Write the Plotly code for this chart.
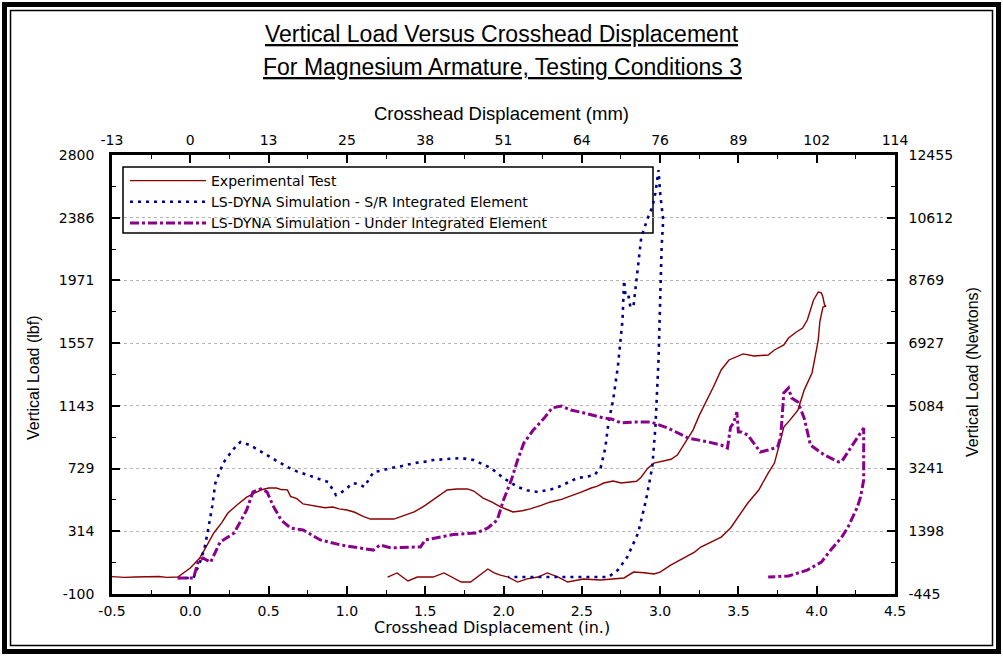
import plotly.graph_objects as go

# ---------------- data (inches, lbf) ----------------
exp_x = [-0.5, -0.42, -0.35, -0.25, -0.2, -0.15, -0.08, 0.0, 0.06, 0.1, 0.15, 0.2, 0.24, 0.3, 0.36, 0.42,
         0.45, 0.5, 0.55, 0.58, 0.62, 0.64, 0.68, 0.72, 0.8, 0.86, 0.91, 0.95, 1.0, 1.05, 1.1, 1.15, 1.3,
         1.36, 1.43, 1.5, 1.55, 1.6, 1.64, 1.7, 1.77, 1.81, 1.87, 1.93, 1.98, 2.03, 2.06, 2.12, 2.17, 2.24,
         2.3, 2.37, 2.43, 2.5, 2.56, 2.6, 2.64, 2.7, 2.75, 2.8, 2.85, 2.88, 2.92, 2.96, 3.02, 3.07, 3.11,
         3.16, 3.21, 3.25, 3.28, 3.34, 3.39, 3.44, 3.53, 3.6, 3.69, 3.73, 3.79, 3.82, 3.87, 3.91, 3.94,
         3.98, 4.01, 4.03, 4.04, 4.05, 4.06, 4.04, 4.02, 4.01, 3.99, 3.97, 3.92, 3.88, 3.83, 3.79, 3.76,
         3.73, 3.69, 3.63, 3.56, 3.5, 3.45, 3.39, 3.32, 3.26, 3.22, 3.13, 3.07, 3.0, 2.96, 2.9, 2.83,
         2.77, 2.7, 2.62, 2.51, 2.41, 2.35, 2.28, 2.22, 2.15, 2.09, 2.03, 1.98, 1.94, 1.9, 1.83, 1.79,
         1.73, 1.67, 1.62, 1.55, 1.45, 1.39, 1.32, 1.26]
exp_y = [15, 10, 12, 12, 16, 10, 12, 72, 138, 210, 303, 370, 435, 490, 540, 572,
         587, 600, 600, 590, 588, 545, 530, 495, 480, 470, 475, 462, 455, 440, 415, 395, 395,
         415, 442, 485, 520, 560, 587, 594, 594, 580, 534, 505, 475, 455, 442, 450, 462, 485,
         508, 525, 547, 575, 600, 612, 633, 646, 633, 640, 645, 673, 730, 765, 780, 790, 818,
         897, 983, 1080, 1140, 1267, 1380, 1446, 1486, 1472, 1479, 1512, 1545, 1591, 1631, 1657, 1710,
         1842, 1895, 1890, 1860, 1809, 1802, 1796, 1700, 1578, 1466, 1360, 1247, 1115, 1050, 1003, 880,
         765, 699, 587, 501, 409, 336, 276, 243, 210, 177, 125, 92, 45, 32, 40, 45,
         6, -1, -8, -1, -21, 12, 39, 12, 0, -21, 12, 25, 39, 65, 12, -21,
         -21, 10, 39, 12, 12, -14, 39, 12]

sr_x = [-0.08, 0.02, 0.06, 0.09, 0.11, 0.14, 0.16, 0.21, 0.27, 0.32, 0.38, 0.44, 0.49, 0.55, 0.62, 0.68,
        0.75, 0.82, 0.88, 0.93, 0.96, 1.0, 1.04, 1.08, 1.11, 1.17, 1.22, 1.28, 1.35, 1.43, 1.49, 1.55,
        1.65, 1.73, 1.81, 1.86, 1.92, 2.0, 2.05, 2.09, 2.15, 2.22, 2.3, 2.35, 2.42, 2.47, 2.53, 2.58,
        2.62, 2.65, 2.67, 2.7, 2.73, 2.76, 2.77, 2.78, 2.8, 2.81, 2.83, 2.85, 2.88, 2.92, 2.95, 2.97,
        2.99, 3.0, 3.02, 3.01, 3.0, 2.99, 2.97, 2.95, 2.91, 2.86, 2.79, 2.73, 2.67, 2.56, 2.4, 2.2, 2.03]
sr_y = [6, 6, 105, 200, 303, 480, 633, 765, 851, 904, 884, 850, 818, 780, 739, 710,
        686, 660, 640, 554, 567, 600, 633, 625, 607, 706, 715, 732, 745, 765, 772, 785,
        795, 798, 785, 760, 732, 666, 630, 607, 585, 574, 590, 607, 640, 666, 675, 686,
        732, 864, 1030, 1181, 1399, 1710, 1971, 1860, 1862, 1796, 1800, 1971, 2258, 2380, 2456, 2549,
        2700, 2549, 2370, 2200, 1888, 1446, 1003, 739, 521, 303, 144, 58, 12, 12, 10, 10, 12]

ui_x = [-0.08, 0.02, 0.05, 0.08, 0.13, 0.19, 0.28, 0.36, 0.4, 0.45, 0.49, 0.53, 0.58, 0.64, 0.72, 0.83,
        0.96, 1.09, 1.17, 1.21, 1.28, 1.43, 1.47, 1.5, 1.58, 1.68, 1.83, 1.9, 1.96, 2.0, 2.05, 2.09,
        2.13, 2.19, 2.26, 2.31, 2.37, 2.43, 2.49, 2.56, 2.64, 2.69, 2.75, 2.83, 2.94, 3.05, 3.18, 3.31,
        3.39, 3.43, 3.45, 3.47, 3.49, 3.5, 3.52, 3.56, 3.64, 3.69, 3.75, 3.77, 3.79, 3.82, 3.84, 3.88,
        3.92, 3.96, 4.05, 4.14, 4.16, 4.22, 4.3, 4.3, 4.3, 4.28, 4.26, 4.2, 4.16, 4.09, 4.03, 3.94,
        3.82, 3.69]
ui_y = [6, 6, 111, 138, 110, 243, 303, 455, 574, 594, 574, 480, 389, 336, 323, 257,
        224, 204, 190, 224, 205, 210, 210, 257, 275, 293, 303, 336, 389, 521, 653, 785,
        897, 983, 1062, 1129, 1142, 1115, 1102, 1082, 1062, 1056, 1030, 1036, 1036, 996, 930, 904,
        884, 864, 1003, 1030, 1102, 970, 970, 950, 838, 851, 871, 937, 1228, 1261, 1195, 1168,
        1062, 884, 818, 772, 775, 871, 996, 937, 653, 541, 475, 342, 276, 191, 111, 58,
        19, 12]

x_ticks = [-0.5, 0.0, 0.5, 1.0, 1.5, 2.0, 2.5, 3.0, 3.5, 4.0, 4.5]
x_labels = ["-0.5", "0.0", "0.5", "1.0", "1.5", "2.0", "2.5", "3.0", "3.5", "4.0", "4.5"]
mm_labels = ["-13", "0", "13", "25", "38", "51", "64", "76", "89", "102", "114"]
y_labels = ["-100", "314", "729", "1143", "1557", "1971", "2386", "2800"]
n_labels = ["-445", "1398", "3241", "5084", "6927", "8769", "10612", "12455"]
y_min, y_max = -100, 2800

series_names = ["Experimental Test",
                "LS-DYNA Simulation - S/R Integrated Element",
                "LS-DYNA Simulation - Under Integrated Element"]

# ---------------- layout helpers ----------------
W, H = 1003, 656
L, R, T, B = 112, 108, 155, 62
PW, PH = W - L - R, H - T - B

def px(x):
    return (x - L) / PW

def py(y):
    return (H - B - y) / PH

y_step = (y_max - y_min) / 7
y_ticks = [y_min + i * y_step for i in range(8)]
y_minor = [y_min + (i + 0.5) * y_step for i in range(7)]
x_minor = [x_ticks[i] + 0.25 for i in range(len(x_ticks) - 1)]

TICKF = dict(family="DejaVu Sans", size=14, color="black")

fig = go.Figure()
fig.add_trace(go.Scatter(x=exp_x, y=exp_y, mode="lines", name=series_names[0],
                         line=dict(color="#8B0000", width=1.4)))
fig.add_trace(go.Scatter(x=sr_x, y=sr_y, mode="lines", name=series_names[1],
                         line=dict(color="#00008B", width=2.6, dash="3px,5px")))
fig.add_trace(go.Scatter(x=ui_x, y=ui_y, mode="lines", name=series_names[2],
                         line=dict(color="#8B008B", width=3, dash="dashdot")))

axis_common = dict(showline=True, linecolor="black", linewidth=2.5, ticks="inside",
                   tickcolor="black", tickwidth=1.5, ticklen=8, zeroline=False,
                   tickfont=TICKF)

fig.update_layout(
    width=W, height=H,
    margin=dict(l=L, r=R, t=T, b=B, pad=0),
    paper_bgcolor="white", plot_bgcolor="white",
    showlegend=True,
    legend=dict(x=px(125), y=py(165), xanchor="left", yanchor="top",
                bgcolor="rgba(0,0,0,0)", borderwidth=0,
                font=dict(family="DejaVu Sans", size=14, color="black"),
                itemwidth=76, tracegroupgap=0),
    xaxis=dict(range=[-0.5, 4.5], tickvals=x_ticks, ticktext=x_labels,
               showgrid=False, ticklabelstandoff=2,
               minor=dict(tickvals=x_minor, ticklen=4, ticks="inside", tickcolor="black",
                          tickwidth=1.2, showgrid=False),
               **axis_common),
    xaxis2=dict(range=[-0.5, 4.5], tickvals=x_ticks, ticktext=mm_labels,
                overlaying="x", side="top", showgrid=False, ticklabelstandoff=2,
                minor=dict(tickvals=x_minor, ticklen=4, ticks="inside", tickcolor="black",
                           tickwidth=1.2, showgrid=False),
                **axis_common),
    yaxis=dict(range=[y_min, y_max], tickvals=y_ticks, ticktext=y_labels,
               showgrid=True, gridcolor="#b4b4b4", griddash="dot", gridwidth=1,
               ticklabelstandoff=12,
               minor=dict(tickvals=y_minor, ticklen=4, ticks="inside", tickcolor="black",
                          tickwidth=1.2, showgrid=False),
               **axis_common),
    yaxis2=dict(range=[y_min, y_max], tickvals=y_ticks, ticktext=n_labels,
                overlaying="y", side="right", showgrid=False, ticklabelstandoff=8,
                minor=dict(tickvals=y_minor, ticklen=4, ticks="inside", tickcolor="black",
                           tickwidth=1.2, showgrid=False),
                **axis_common),
)

# invisible anchors so the secondary axes render
fig.add_trace(go.Scatter(x=[None], y=[None], xaxis="x2", yaxis="y2", showlegend=False,
                         hoverinfo="skip"))

ann = []
TITLEF = dict(family="Liberation Sans, Arial", size=23, color="black")
ann.append(dict(text="<u>Vertical Load Versus Crosshead Displacement</u>", x=px(502), y=py(34),
                xref="paper", yref="paper", showarrow=False, font=TITLEF,
                xanchor="center", yanchor="middle"))
ann.append(dict(text="<u>For Magnesium Armature, Testing Conditions 3</u>", x=px(502), y=py(67),
                xref="paper", yref="paper", showarrow=False, font=TITLEF,
                xanchor="center", yanchor="middle"))
ann.append(dict(text="Crosshead Displacement (mm)", x=px(501), y=py(113),
                xref="paper", yref="paper", showarrow=False,
                font=dict(family="Liberation Sans, Arial", size=18.5, color="black"),
                xanchor="center", yanchor="middle"))
ann.append(dict(text="Crosshead Displacement (in.)", x=px(492), y=py(627),
                xref="paper", yref="paper", showarrow=False,
                font=dict(family="DejaVu Sans", size=16, color="black"),
                xanchor="center", yanchor="middle"))
ann.append(dict(text="Vertical Load (lbf)", x=px(33), y=py(378), textangle=-90,
                xref="paper", yref="paper", showarrow=False,
                font=dict(family="Liberation Sans, Arial", size=16, color="black"),
                xanchor="center", yanchor="middle"))
ann.append(dict(text="Vertical Load (Newtons)", x=px(972), y=py(372), textangle=-90,
                xref="paper", yref="paper", showarrow=False,
                font=dict(family="Liberation Sans, Arial", size=16, color="black"),
                xanchor="center", yanchor="middle"))
fig.update_layout(annotations=ann)

shapes = [
    # legend box (opaque, under the traces but over the grid)
    dict(type="rect", xref="paper", yref="paper", x0=px(123), y0=py(167), x1=px(653), y1=py(233),
         line=dict(color="black", width=1.5), fillcolor="white", layer="between"),
    dict(type="rect", xref="paper", yref="paper", x0=px(4.5), y0=py(4.5), x1=px(998.5), y1=py(651.5),
         line=dict(color="black", width=5), fillcolor="rgba(0,0,0,0)", layer="above"),
    dict(type="rect", xref="paper", yref="paper", x0=px(10.5), y0=py(10.5), x1=px(992.5), y1=py(645.5),
         line=dict(color="black", width=1.5), fillcolor="rgba(0,0,0,0)", layer="above"),
]
fig.update_layout(shapes=shapes)

fig.write_html("out.html")
